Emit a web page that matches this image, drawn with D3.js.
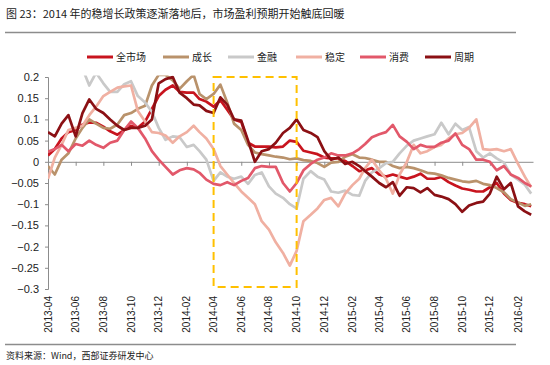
<!DOCTYPE html>
<html>
<head>
<meta charset="utf-8">
<script src="https://cdn.jsdelivr.net/npm/d3@7"></script>
<style>
  body { margin: 0; background: #fff; }
  text { font-family: "Liberation Sans", Arial, sans-serif; fill: #222; }
  .cjk { font-family: "Noto Sans CJK SC", sans-serif; }
</style>
</head>
<body>
<script>
// half-month sample dates, 2013-04-01 .. 2016-03-01
var dates = [];
for (var m = 0; m <= 35; m++) {
  dates.push(new Date(2013, 3 + m, 1));
  if (m < 35) dates.push(new Date(2013, 3 + m, 16));
}

var seriesNames = ['全市场', '成长', '金融', '稳定', '消费', '周期'];
var seriesColors = ['#c8141e', '#b9926b', '#c9c9c9', '#f0b0a2', '#e2586a', '#8b1014'];

var allMarket = [
  0.015, 0.03, 0.055, 0.07, 0.075, 0.088, 0.093, 0.092, 0.083, 0.072,
  0.064, 0.075, 0.085, 0.08, 0.095, 0.125, 0.155, 0.17, 0.18, 0.165,
  0.163, 0.163, 0.148, 0.142, 0.13, 0.145, 0.123, 0.10, 0.094, 0.045,
  0.036, 0.036, 0.036, 0.034, 0.036, 0.05, 0.047, 0.026, 0.022, 0.018,
  0.01, 0.008, 0.008, 0.002, -0.01, -0.022, -0.02, -0.015, -0.03, -0.035,
  -0.03, -0.035, -0.04, -0.035, -0.028, -0.04, -0.04, -0.036, -0.048, -0.056,
  -0.063, -0.066, -0.07, -0.07, -0.06, -0.05, -0.075, -0.09, -0.097, -0.1, -0.105
];
var growth = [
  -0.01, -0.03, 0.005, 0.02, 0.055, 0.08, 0.1, 0.09, 0.08, 0.078,
  0.088, 0.11, 0.115, 0.125, 0.132, 0.18, 0.205, 0.205, 0.192, 0.172,
  0.19, 0.205, 0.16, 0.148, 0.16, 0.182, 0.14, 0.09, 0.075, 0.04,
  0.022, 0.018, 0.015, 0.012, 0.01, 0.006, 0.008, 0.004, 0.002, -0.003,
  -0.012, -0.002, 0.0, 0.012, 0.018, 0.01, 0.009, 0.005, 0.0, 0.0,
  -0.01, -0.015, -0.012, -0.015, -0.02, -0.026, -0.028, -0.032, -0.038, -0.042,
  -0.046, -0.048, -0.045, -0.052, -0.055, -0.062, -0.072, -0.088, -0.096, -0.104, -0.1
];
var finance = [
  0.26, 0.27, 0.27, 0.26, 0.24, 0.22, 0.18, 0.21, 0.185, 0.165,
  0.165, 0.183, 0.19, 0.155, 0.14, 0.118, 0.08, 0.052, 0.06, 0.058,
  0.035, 0.04, 0.025, 0.005, -0.045, -0.025, -0.035, -0.04, -0.035, -0.052,
  -0.031, -0.025, -0.058, -0.075, -0.085, -0.1, -0.11, -0.04, -0.022, -0.035,
  -0.042, -0.07, -0.073, -0.068, -0.078, -0.08, -0.045, -0.025, -0.015, -0.003,
  0.0, 0.02, 0.038, 0.05, 0.055, 0.06, 0.065, 0.092, 0.065, 0.09,
  0.075, 0.082, 0.025, 0.01, 0.02, 0.008, -0.002, -0.03, -0.042, -0.054, -0.075
];
var stable = [
  -0.04, 0.01, 0.04, 0.075, 0.08, 0.085, 0.11, 0.13, 0.155, 0.165,
  0.175, 0.178, 0.18, 0.12, 0.095, 0.07, 0.068, 0.062, 0.045, 0.06,
  0.07, 0.085, 0.07, 0.055, 0.03, -0.01, -0.03, -0.05, -0.07, -0.085,
  -0.1, -0.14, -0.16, -0.19, -0.215, -0.245, -0.21, -0.14, -0.125, -0.11,
  -0.09, -0.085, -0.105, -0.075, -0.055, -0.04, -0.015, 0.005, -0.02, -0.04,
  -0.075, -0.03, 0.0, 0.04, 0.02, 0.025, 0.035, 0.04, 0.055, 0.065,
  0.068, 0.08, 0.1, 0.03, 0.028, 0.03, 0.025, 0.03, -0.005, -0.035, -0.06
];
var consumer = [
  0.024, 0.03, 0.04, 0.025, 0.042, 0.038, 0.05, 0.04, 0.033, 0.045,
  0.05, 0.075, 0.095, 0.08, 0.055, 0.025, 0.005, -0.012, -0.03, -0.02,
  -0.015, -0.018, -0.026, -0.042, -0.052, -0.055, -0.048, -0.055, -0.045, -0.038,
  -0.015, -0.01, -0.012, -0.012, -0.05, -0.07, -0.05, -0.02, -0.005, 0.005,
  0.01, 0.02, 0.015, 0.015, 0.02, 0.03, 0.042, 0.058, 0.065, 0.07,
  0.087, 0.06, 0.047, 0.03, 0.04, 0.035, 0.035, 0.045, 0.05, 0.067,
  0.04, 0.03, 0.005, 0.005, 0.0, -0.02, -0.01, -0.03, -0.038, -0.05, -0.058
];
var cyclical = [
  0.07, 0.06, 0.09, 0.11, 0.06, 0.115, 0.147, 0.125, 0.115, 0.10,
  0.085, 0.075, 0.08, 0.08, 0.085, 0.10, 0.185, 0.195, 0.20, 0.163,
  0.15, 0.135, 0.133, 0.12, 0.115, 0.152, 0.135, 0.10, 0.097, 0.05,
  0.0, 0.025, 0.03, 0.045, 0.068, 0.08, 0.10, 0.075, 0.068, 0.058,
  0.025, 0.005, 0.01, -0.005, 0.0, -0.01, -0.022, -0.035, -0.05, -0.06,
  -0.048, -0.08, -0.06, -0.062, -0.072, -0.062, -0.078, -0.082, -0.088, -0.10,
  -0.118, -0.103, -0.097, -0.094, -0.075, -0.035, -0.065, -0.05, -0.105, -0.117, -0.125
];
var seriesValues = [allMarket, growth, finance, stable, consumer, cyclical];

var yTicks = [0.2, 0.15, 0.1, 0.05, 0, -0.05, -0.1, -0.15, -0.2, -0.25, -0.3];
var xTickLabels = ['2013-04', '2013-06', '2013-08', '2013-10', '2013-12', '2014-02',
  '2014-04', '2014-06', '2014-08', '2014-10', '2014-12', '2015-02', '2015-04',
  '2015-06', '2015-08', '2015-10', '2015-12', '2016-02'];
var boxStart = '2014-04', boxEnd = '2014-10';

var parseMonth = d3.timeParse('%Y-%m');

var svg = d3.select('body').append('svg')
  .attr('width', 550)
  .attr('height', 365);

var x = d3.scaleTime()
  .domain([new Date(2013, 3, 1), new Date(2016, 2, 5)])
  .range([48, 533]);
var y = d3.scaleLinear()
  .domain([-0.3, 0.2])
  .range([289, 77]);

// title + rules
svg.append('text').attr('class', 'cjk')
  .attr('x', 6).attr('y', 18)
  .attr('font-size', 11)
  .attr('fill', '#1a1a1a')
  .text('图 23：2014 年的稳增长政策逐渐落地后，市场盈利预期开始触底回暖');
svg.append('line').attr('x1', 5).attr('x2', 516).attr('y1', 32.5).attr('y2', 32.5)
  .attr('stroke', '#8c8c8c').attr('stroke-width', 1.5);
svg.append('line').attr('x1', 5).attr('x2', 516).attr('y1', 344.5).attr('y2', 344.5)
  .attr('stroke', '#8c8c8c').attr('stroke-width', 1.5);
svg.append('text').attr('class', 'cjk')
  .attr('x', 6).attr('y', 359)
  .attr('font-size', 9)
  .text('资料来源：Wind，西部证券研发中心');

// y axis
var yAxis = svg.append('g').attr('transform', 'translate(48,0)')
  .call(d3.axisLeft(y).tickValues(yTicks).tickSize(3).tickPadding(6)
    .tickFormat(function(d) { return d3.format('~g')(+d.toFixed(2)); }));
yAxis.select('.domain').attr('stroke', '#8c8c8c');
yAxis.selectAll('.tick line').attr('stroke', '#8c8c8c');
yAxis.selectAll('.tick text').attr('font-size', 11)
  .attr('font-family', '"Liberation Sans", Arial, sans-serif').attr('fill', '#222');

// x axis at zero
var xAxis = svg.append('g').attr('transform', 'translate(0,' + y(0) + ')')
  .call(d3.axisBottom(x).tickValues(xTickLabels.map(parseMonth)).tickSize(4)
    .tickSizeOuter(0).tickFormat(''));
xAxis.select('.domain').attr('stroke', '#8c8c8c');
xAxis.selectAll('.tick line').attr('stroke', '#8c8c8c');

svg.append('g').selectAll('text')
  .data(xTickLabels)
  .enter().append('text')
  .attr('transform', function(d) { return 'translate(' + x(parseMonth(d)) + ',296) rotate(-90)'; })
  .attr('text-anchor', 'end')
  .attr('dy', '0.35em')
  .attr('font-size', 10)
  .text(function(d) { return d; });

// lines
svg.append('clipPath').attr('id', 'plotclip')
  .append('rect').attr('x', 48).attr('y', y(0.2) - 1.5)
  .attr('width', 486).attr('height', y(-0.3) - y(0.2) + 3);

var line = d3.line()
  .x(function(d, i) { return x(dates[i]); })
  .y(function(d) { return y(d); });

svg.append('g').attr('clip-path', 'url(#plotclip)')
  .selectAll('path')
  .data(seriesValues)
  .enter().append('path')
  .attr('d', line)
  .attr('fill', 'none')
  .attr('stroke', function(d, i) { return seriesColors[i]; })
  .attr('stroke-width', 2.7)
  .attr('stroke-linejoin', 'round');

// highlight box
svg.append('rect')
  .attr('x', x(parseMonth(boxStart)))
  .attr('y', y(0.2))
  .attr('width', x(parseMonth(boxEnd)) - x(parseMonth(boxStart)))
  .attr('height', y(-0.3) - y(0.2) - 2)
  .attr('fill', 'none')
  .attr('stroke', '#ffc000')
  .attr('stroke-width', 2)
  .attr('stroke-dasharray', '8,5');

// legend
var legendX = [87, 163, 228, 296, 360, 425];
var legend = svg.append('g').selectAll('g')
  .data(seriesNames)
  .enter().append('g')
  .attr('transform', function(d, i) { return 'translate(' + legendX[i] + ',57)'; });
legend.append('line')
  .attr('x1', 0).attr('x2', 26)
  .attr('stroke', function(d, i) { return seriesColors[i]; })
  .attr('stroke-width', 3);
legend.append('text').attr('class', 'cjk')
  .attr('x', 29).attr('dy', '0.35em')
  .attr('font-size', 10)
  .text(function(d) { return d; });
</script>
</body>
</html>
